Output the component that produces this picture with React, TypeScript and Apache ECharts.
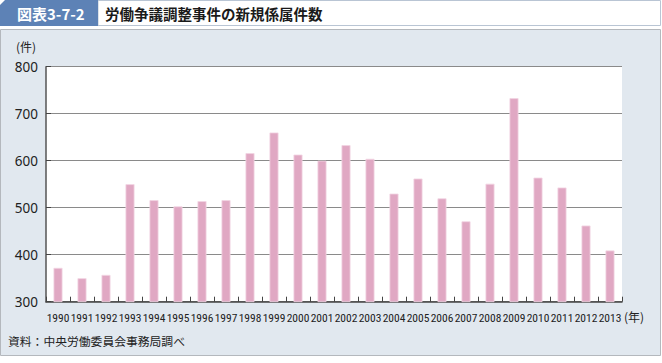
import React, { useEffect, useRef } from "react";
import * as echarts from "echarts";

const years = [
  "1990", "1991", "1992", "1993", "1994", "1995", "1996", "1997", "1998", "1999",
  "2000", "2001", "2002", "2003", "2004", "2005", "2006", "2007", "2008", "2009",
  "2010", "2011", "2012", "2013",
];
const cases = [
  372, 350, 357, 550, 516, 503, 514, 516, 616, 660,
  613, 600, 633, 604, 530, 562, 520, 471, 551, 733,
  564, 543, 462, 409,
];
const yTicks = { min: 300, max: 800, interval: 100 };

const CJK = "'Noto Sans CJK JP', 'Noto Sans', sans-serif";

export default function App() {
  const ref = useRef<HTMLDivElement>(null);
  useEffect(() => {
    document.body.style.margin = "0";
    if (!ref.current) return;
    const chart = echarts.init(ref.current, undefined, { renderer: "svg" });
    chart.setOption({
      animation: false,
      backgroundColor: "#ffffff",
      graphic: [
        {
          type: "rect",
          shape: { x: 0.5, y: 29.5, width: 660, height: 326 },
          style: { fill: "#e1e8ef", stroke: "#b4b8bd", lineWidth: 1 },
          z: -10,
        },
        {
          type: "rect",
          shape: { x: 98, y: 0.5, width: 562.5, height: 25 },
          style: { fill: "#ffffff", stroke: "#b9c5d4", lineWidth: 1 },
          z: -10,
        },
        {
          type: "polygon",
          shape: { points: [[5, 0], [98, 0], [98, 26], [0, 26], [0, 5]] },
          style: { fill: "#5d82b6" },
          z: -9,
        },
        {
          type: "text",
          x: 17,
          y: 13,
          style: {
            text: "図表3-7-2",
            fill: "#ffffff",
            font: `bold 15px ${CJK}`,
            textVerticalAlign: "middle",
          },
        },
        {
          type: "text",
          x: 105,
          y: 13,
          style: {
            text: "労働争議調整事件の新規係属件数",
            fill: "#1a1a1a",
            font: `bold 14.5px ${CJK}`,
            textVerticalAlign: "middle",
          },
        },
        {
          type: "text",
          x: 16,
          y: 46,
          style: {
            text: "(件)",
            fill: "#222222",
            font: `12px ${CJK}`,
            textVerticalAlign: "middle",
          },
        },
        {
          type: "text",
          x: 624,
          y: 316,
          style: {
            text: "(年)",
            fill: "#222222",
            font: `12px ${CJK}`,
            textVerticalAlign: "middle",
          },
        },
        {
          type: "text",
          x: 8,
          y: 340,
          style: {
            text: "資料：中央労働委員会事務局調べ",
            fill: "#222222",
            font: `11.8px ${CJK}`,
            textVerticalAlign: "middle",
          },
        },
      ],
      grid: {
        show: true,
        left: 46,
        right: 40,
        top: 66.7,
        bottom: 61.3,
        backgroundColor: "#ffffff",
        borderWidth: 0,
        containLabel: false,
      },
      xAxis: {
        type: "category",
        data: years,
        axisLine: { show: true, lineStyle: { color: "#444444", width: 1.5 } },
        axisTick: {
          show: true,
          inside: true,
          length: 5,
          alignWithLabel: false,
          lineStyle: { color: "#444444", width: 1 },
        },
        axisLabel: {
          interval: 0,
          margin: 10,
          color: "#222222",
          fontSize: 11.5,
          fontFamily: "'Liberation Sans Narrow', 'Roboto Condensed', 'Arial Narrow', sans-serif",
        },
      },
      yAxis: {
        type: "value",
        min: yTicks.min,
        max: yTicks.max,
        interval: yTicks.interval,
        axisLine: { show: true, lineStyle: { color: "#555555", width: 1.5 } },
        axisTick: { show: true, inside: true, length: 5, lineStyle: { color: "#444444", width: 1 } },
        splitLine: { show: true, lineStyle: { color: "#8a8a8a", width: 1 } },
        axisLabel: {
          margin: 8,
          color: "#222222",
          fontSize: 13.5,
          fontFamily: "'Noto Sans', sans-serif",
        },
      },
      series: [
        {
          type: "bar",
          data: cases,
          barWidth: 9,
          itemStyle: { color: "#e0a8c3", borderColor: "#f3d6e3", borderWidth: 0.8 },
        },
      ],
    });
    return () => chart.dispose();
  }, []);
  return (
    <div
      ref={ref}
      style={{ position: "absolute", left: 0, top: 0, width: 662, height: 363 }}
    />
  );
}
